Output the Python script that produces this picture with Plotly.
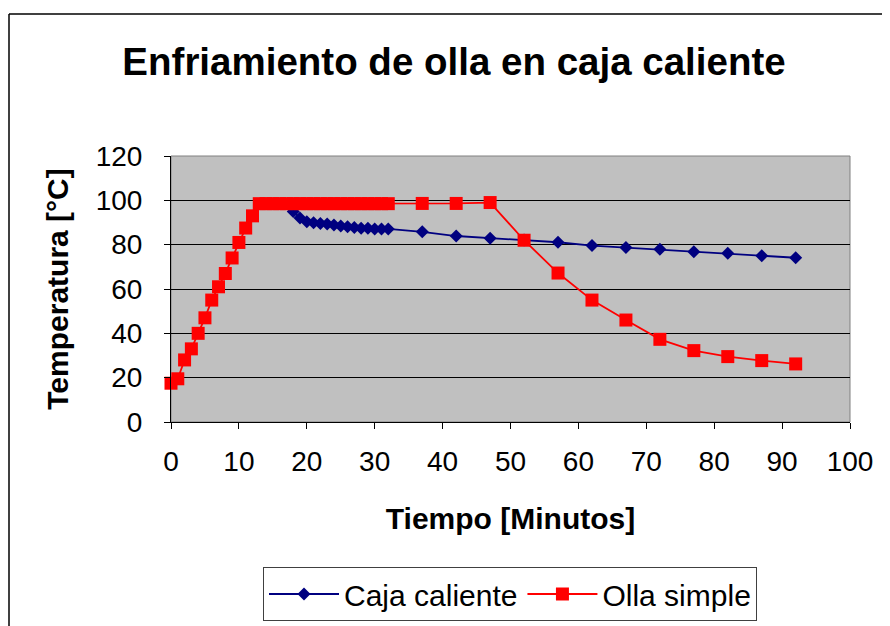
import plotly.graph_objects as go

# ---- data ----
caja_x = [18, 19, 20, 21, 22, 23, 24, 25, 26, 27, 28, 29, 30, 31, 32,
          37, 42, 47, 52, 57, 62, 67, 72, 77, 82, 87, 92]
caja_y = [95, 92, 90.3, 89.9, 89.6, 89.3, 88.9, 88.4, 88.1, 87.7, 87.4, 87.4, 87.1, 87.1, 87.1,
          85.8, 83.9, 82.9, 82.1, 81.1, 79.6, 78.7, 77.9, 76.8, 76.1, 75.0, 74.1]

olla_x = [0, 1, 2, 3, 4, 5, 6, 7, 8, 9, 10, 11, 12,
          13, 14, 15, 16, 17, 18, 19, 20, 21, 22, 23, 24, 25, 26, 27, 28, 29, 30, 31, 32,
          37, 42, 47, 52, 57, 62, 67, 72, 77, 82, 87, 92]
olla_y = [17.5, 19.5, 28, 33, 40, 47, 55, 61, 67, 74, 81, 87.5, 93,
          98.5, 98.5, 98.5, 98.5, 98.5, 98.5, 98.5, 98.5, 98.5, 98.5, 98.5, 98.5, 98.5, 98.5,
          98.5, 98.5, 98.5, 98.5, 98.5, 98.5,
          98.6, 98.6, 99.0, 82.0, 67.2, 55.0, 46.0, 37.3, 32.2, 29.5, 27.7, 26.2]

x_ticks = [0, 10, 20, 30, 40, 50, 60, 70, 80, 90, 100]
y_ticks = [0, 20, 40, 60, 80, 100, 120]

FONT = "Liberation Sans, Arial, sans-serif"

fig = go.Figure()
fig.add_trace(go.Scatter(
    x=caja_x, y=caja_y, name="Caja caliente", mode="lines+markers",
    line=dict(color="#000080", width=1.8),
    marker=dict(symbol="diamond", size=10, color="#000080"),
    cliponaxis=False,
))
fig.add_trace(go.Scatter(
    x=olla_x, y=olla_y, name="Olla simple", mode="lines+markers",
    line=dict(color="#FF0000", width=1.8),
    marker=dict(symbol="square", size=13, color="#FF0000"),
    cliponaxis=False,
))

# page body has an 8px margin: work in reference pixel coords shifted by 8
OFF = 8
W, H = 890 - OFF, 626 - OFF
L, T = 171 - OFF, 156 - OFF
PR, PB = 850 - OFF, 422 - OFF
R, B = W - PR, H - PB
pw, ph = PR - L, PB - T

def px_x(p):
    return (p - OFF - L) / pw

def px_y(p):
    return (PB - (p - OFF)) / ph

fig.update_layout(
    width=W, height=H,
    margin=dict(l=L, r=R, t=T, b=B, autoexpand=False),
    paper_bgcolor="white",
    plot_bgcolor="#C0C0C0",
    font=dict(family=FONT, color="black"),
    title=dict(text="<b>Enfriamiento de olla en caja caliente</b>",
               x=(454 - OFF) / W, xanchor="center", xref="container",
               y=1 - (62 - OFF) / H, yanchor="middle", yref="container",
               font=dict(size=38.5, family=FONT)),
    xaxis=dict(range=[0, 100], tickvals=x_ticks, ticktext=[str(v) for v in x_ticks],
               showgrid=False, zeroline=False,
               showline=True, linecolor="black", linewidth=1,
               ticks="outside", ticklen=6, tickcolor="black",
               tickfont=dict(size=28), ticklabelstandoff=8,
               title=dict(text="<b>Tiempo [Minutos]</b>", font=dict(size=30), standoff=32)),
    yaxis=dict(range=[0, 120], tickvals=y_ticks, ticktext=[str(v) for v in y_ticks],
               showgrid=True, gridcolor="black", gridwidth=1, zeroline=False,
               showline=True, linecolor="black", linewidth=1,
               ticks="outside", ticklen=6, tickcolor="black",
               tickfont=dict(size=28), ticklabelstandoff=16,
               title=dict(text="<b>Temperatura [°C]</b>", font=dict(size=30), standoff=18)),
    showlegend=True,
    legend=dict(orientation="h", x=(510 - OFF) / W, xanchor="center", xref="container",
                y=1 - (567 - OFF) / H, yanchor="top", yref="container",
                bordercolor="#404040", borderwidth=1, bgcolor="white",
                font=dict(size=30, family=FONT), itemwidth=70,
                tracegroupgap=0),
    shapes=[
        dict(type="rect", xref="paper", yref="paper", x0=0, x1=1, y0=0, y1=1,
             line=dict(color="#808080", width=1), fillcolor="rgba(0,0,0,0)", layer="below"),
        dict(type="line", xref="paper", yref="paper",
             x0=px_x(9), x1=px_x(9), y0=px_y(14), y1=px_y(640),
             line=dict(color="black", width=1.5)),
        dict(type="line", xref="paper", yref="paper",
             x0=px_x(9), x1=px_x(900), y0=px_y(14), y1=px_y(14),
             line=dict(color="black", width=1.5)),
    ],
)

fig.write_html("out.html")
